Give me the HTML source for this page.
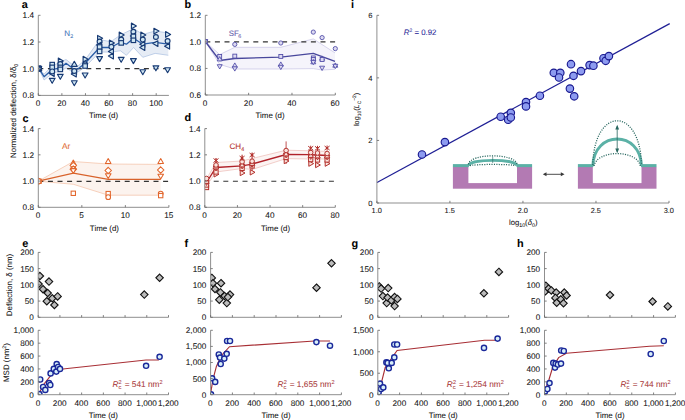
<!DOCTYPE html><html><head><meta charset="utf-8"><style>html,body{margin:0;padding:0;background:#fff;}svg{display:block;}text{font-family:"Liberation Sans", sans-serif;text-rendering:geometricPrecision;stroke-width:0.06px;}</style></head><body>
<svg width="685" height="420" viewBox="0 0 685 420">
<rect width="685" height="420" fill="#fff"/>
<polygon points="38.8,68.6 44.1,74.0 52.2,66.0 60.3,62.0 66.0,59.5 74.3,66.0 77.9,66.0 85.1,60.0 99.6,39.6 110.7,41.7 120.5,35.0 133.6,28.5 142.8,34.4 155.2,31.0 168.3,33.0 168.3,55.3 155.2,53.4 142.8,57.3 133.6,47.5 126.4,55.3 120.5,50.8 110.7,52.1 99.6,52.1 85.1,67.0 77.9,72.0 74.3,73.0 66.0,68.0 60.3,71.0 52.2,73.5 44.1,80.0 38.8,68.6" fill="#e6ecf5" stroke="none"/>
<polyline points="38.8,68.6 44.1,74.0 52.2,66.0 60.3,62.0 66.0,59.5 74.3,66.0 77.9,66.0 85.1,60.0 99.6,39.6 110.7,41.7 120.5,35.0 133.6,28.5 142.8,34.4 155.2,31.0 168.3,33.0" fill="none" stroke="#9cb6dc" stroke-width="0.6"/>
<polyline points="38.8,68.6 44.1,80.0 52.2,73.5 60.3,71.0 66.0,68.0 74.3,73.0 77.9,72.0 85.1,67.0 99.6,52.1 110.7,52.1 120.5,50.8 126.4,55.3 133.6,47.5 142.8,57.3 155.2,53.4 168.3,55.3" fill="none" stroke="#9cb6dc" stroke-width="0.6"/>
<line x1="38.3" y1="68.6" x2="168.9" y2="68.6" stroke="#333" stroke-width="1.1" stroke-dasharray="5 4.6"/>
<polyline points="38.8,68.6 44.1,76.7 52.2,69.4 60.3,68.2 66.0,63.3 74.3,69.4 77.9,68.9 85.1,63.3 99.6,47.5 110.7,47.5 120.5,42.3 126.4,44.2 133.6,38.3 142.8,44.2 155.2,42.3 168.3,44.2" fill="none" stroke="#2a5ea8" stroke-width="1.3" stroke-linejoin="round"/>
<clipPath id="ca"><rect x="38.3" y="5" width="140" height="90.4"/></clipPath><g clip-path="url(#ca)">
<circle cx="38.8" cy="68.6" r="2.44" fill="#d0e6f2" stroke="#173a74" stroke-width="1.15"/>
<rect x="36.55" y="66.35" width="4.50" height="4.50" fill="#d0e6f2" stroke="#173a74" stroke-width="1.15"/>
<polygon points="38.8,65.6 41.7,70.6 35.9,70.6" fill="#d0e6f2" stroke="#173a74" stroke-width="1.15" stroke-linejoin="round"/>
<polygon points="38.8,71.6 41.7,66.6 35.9,66.6" fill="#d0e6f2" stroke="#173a74" stroke-width="1.15" stroke-linejoin="round"/>
<polygon points="35.8,68.6 40.8,71.5 40.8,65.7" fill="#d0e6f2" stroke="#173a74" stroke-width="1.15" stroke-linejoin="round"/>
<polygon points="41.8,68.6 36.8,71.5 36.8,65.7" fill="#d0e6f2" stroke="#173a74" stroke-width="1.15" stroke-linejoin="round"/>
<rect x="49.95" y="62.35" width="4.50" height="4.50" fill="#d0e6f2" stroke="#173a74" stroke-width="1.15"/>
<rect x="49.95" y="65.15" width="4.50" height="4.50" fill="#d0e6f2" stroke="#173a74" stroke-width="1.15"/>
<polygon points="49.2,73.5 54.2,76.4 54.2,70.6" fill="#d0e6f2" stroke="#173a74" stroke-width="1.15" stroke-linejoin="round"/>
<circle cx="52.2" cy="71.4" r="2.44" fill="#d0e6f2" stroke="#173a74" stroke-width="1.15"/>
<polygon points="52.2,83.3 55.1,78.3 49.3,78.3" fill="#d0e6f2" stroke="#173a74" stroke-width="1.15" stroke-linejoin="round"/>
<polygon points="63.3,60.9 58.3,63.8 58.3,58.0" fill="#d0e6f2" stroke="#173a74" stroke-width="1.15" stroke-linejoin="round"/>
<circle cx="60.3" cy="64.1" r="2.44" fill="#d0e6f2" stroke="#173a74" stroke-width="1.15"/>
<rect x="58.05" y="65.15" width="4.50" height="4.50" fill="#d0e6f2" stroke="#173a74" stroke-width="1.15"/>
<rect x="58.05" y="67.15" width="4.50" height="4.50" fill="#d0e6f2" stroke="#173a74" stroke-width="1.15"/>
<polygon points="60.3,79.3 63.2,74.3 57.4,74.3" fill="#d0e6f2" stroke="#173a74" stroke-width="1.15" stroke-linejoin="round"/>
<polygon points="74.3,61.3 77.2,66.3 71.4,66.3" fill="#d0e6f2" stroke="#173a74" stroke-width="1.15" stroke-linejoin="round"/>
<rect x="72.05" y="69.75" width="4.50" height="4.50" fill="#d0e6f2" stroke="#173a74" stroke-width="1.15"/>
<polygon points="71.3,74.0 76.3,76.9 76.3,71.1" fill="#d0e6f2" stroke="#173a74" stroke-width="1.15" stroke-linejoin="round"/>
<circle cx="74.3" cy="71.0" r="2.44" fill="#d0e6f2" stroke="#173a74" stroke-width="1.15"/>
<polygon points="74.3,85.7 77.2,80.7 71.4,80.7" fill="#d0e6f2" stroke="#173a74" stroke-width="1.15" stroke-linejoin="round"/>
<polygon points="88.1,59.2 83.1,62.1 83.1,56.3" fill="#d0e6f2" stroke="#173a74" stroke-width="1.15" stroke-linejoin="round"/>
<circle cx="85.1" cy="64.3" r="2.44" fill="#d0e6f2" stroke="#173a74" stroke-width="1.15"/>
<rect x="82.85" y="63.75" width="4.50" height="4.50" fill="#d0e6f2" stroke="#173a74" stroke-width="1.15"/>
<polygon points="85.1,78.0 88.0,73.0 82.2,73.0" fill="#d0e6f2" stroke="#173a74" stroke-width="1.15" stroke-linejoin="round"/>
<polygon points="102.6,38.3 97.6,41.2 97.6,35.4" fill="#d0e6f2" stroke="#173a74" stroke-width="1.15" stroke-linejoin="round"/>
<circle cx="99.6" cy="41.6" r="2.44" fill="#d0e6f2" stroke="#173a74" stroke-width="1.15"/>
<polygon points="96.6,44.9 101.6,47.8 101.6,42.0" fill="#d0e6f2" stroke="#173a74" stroke-width="1.15" stroke-linejoin="round"/>
<rect x="97.35" y="44.75" width="4.50" height="4.50" fill="#d0e6f2" stroke="#173a74" stroke-width="1.15"/>
<rect x="97.35" y="49.15" width="4.50" height="4.50" fill="#d0e6f2" stroke="#173a74" stroke-width="1.15"/>
<polygon points="99.6,61.6 102.5,56.6 96.7,56.6" fill="#d0e6f2" stroke="#173a74" stroke-width="1.15" stroke-linejoin="round"/>
<polygon points="114.4,42.9 109.4,45.8 109.4,40.0" fill="#d0e6f2" stroke="#173a74" stroke-width="1.15" stroke-linejoin="round"/>
<circle cx="111.4" cy="46.8" r="2.44" fill="#d0e6f2" stroke="#173a74" stroke-width="1.15"/>
<polygon points="108.4,51.4 113.4,54.3 113.4,48.5" fill="#d0e6f2" stroke="#173a74" stroke-width="1.15" stroke-linejoin="round"/>
<polygon points="108.4,56.0 113.4,58.9 113.4,53.1" fill="#d0e6f2" stroke="#173a74" stroke-width="1.15" stroke-linejoin="round"/>
<polygon points="124.2,35.0 119.2,37.9 119.2,32.1" fill="#d0e6f2" stroke="#173a74" stroke-width="1.15" stroke-linejoin="round"/>
<circle cx="121.2" cy="39.6" r="2.44" fill="#d0e6f2" stroke="#173a74" stroke-width="1.15"/>
<rect x="118.95" y="40.65" width="4.50" height="4.50" fill="#d0e6f2" stroke="#173a74" stroke-width="1.15"/>
<polygon points="121.2,62.3 124.1,57.3 118.3,57.3" fill="#d0e6f2" stroke="#173a74" stroke-width="1.15" stroke-linejoin="round"/>
<polygon points="136.4,25.9 131.4,28.8 131.4,23.0" fill="#d0e6f2" stroke="#173a74" stroke-width="1.15" stroke-linejoin="round"/>
<circle cx="133.4" cy="31.8" r="2.44" fill="#d0e6f2" stroke="#173a74" stroke-width="1.15"/>
<polygon points="130.4,36.0 135.4,38.9 135.4,33.1" fill="#d0e6f2" stroke="#173a74" stroke-width="1.15" stroke-linejoin="round"/>
<rect x="131.15" y="34.15" width="4.50" height="4.50" fill="#d0e6f2" stroke="#173a74" stroke-width="1.15"/>
<rect x="131.15" y="38.05" width="4.50" height="4.50" fill="#d0e6f2" stroke="#173a74" stroke-width="1.15"/>
<polygon points="133.4,63.6 136.3,58.6 130.5,58.6" fill="#d0e6f2" stroke="#173a74" stroke-width="1.15" stroke-linejoin="round"/>
<polygon points="145.8,35.0 140.8,37.9 140.8,32.1" fill="#d0e6f2" stroke="#173a74" stroke-width="1.15" stroke-linejoin="round"/>
<circle cx="142.8" cy="39.6" r="2.44" fill="#d0e6f2" stroke="#173a74" stroke-width="1.15"/>
<polygon points="139.8,44.2 144.8,47.1 144.8,41.3" fill="#d0e6f2" stroke="#173a74" stroke-width="1.15" stroke-linejoin="round"/>
<polygon points="139.8,47.5 144.8,50.4 144.8,44.6" fill="#d0e6f2" stroke="#173a74" stroke-width="1.15" stroke-linejoin="round"/>
<polygon points="142.8,74.7 145.7,69.7 139.9,69.7" fill="#d0e6f2" stroke="#173a74" stroke-width="1.15" stroke-linejoin="round"/>
<polygon points="158.9,31.1 153.9,34.0 153.9,28.2" fill="#d0e6f2" stroke="#173a74" stroke-width="1.15" stroke-linejoin="round"/>
<circle cx="155.9" cy="37.0" r="2.44" fill="#d0e6f2" stroke="#173a74" stroke-width="1.15"/>
<polygon points="152.9,43.6 157.9,46.5 157.9,40.7" fill="#d0e6f2" stroke="#173a74" stroke-width="1.15" stroke-linejoin="round"/>
<polygon points="155.9,70.8 158.8,65.8 153.0,65.8" fill="#d0e6f2" stroke="#173a74" stroke-width="1.15" stroke-linejoin="round"/>
<polygon points="170.6,34.4 165.6,37.3 165.6,31.5" fill="#d0e6f2" stroke="#173a74" stroke-width="1.15" stroke-linejoin="round"/>
<circle cx="167.6" cy="41.0" r="2.44" fill="#d0e6f2" stroke="#173a74" stroke-width="1.15"/>
<polygon points="164.6,46.2 169.6,49.1 169.6,43.3" fill="#d0e6f2" stroke="#173a74" stroke-width="1.15" stroke-linejoin="round"/>
<polygon points="167.6,72.7 170.5,67.7 164.7,67.7" fill="#d0e6f2" stroke="#173a74" stroke-width="1.15" stroke-linejoin="round"/>
</g>
<path d="M38.3,15.3 V95.4 H168.9" fill="none" stroke="#8f8f8f" stroke-width="1.0"/>
<path d="M38.3,15.30 h2.2M38.3,42.00 h2.2M38.3,68.70 h2.2M38.3,95.40 h2.2M38.30,95.4 v-2.2M61.88,95.4 v-2.2M85.46,95.4 v-2.2M109.04,95.4 v-2.2M132.62,95.4 v-2.2M156.20,95.4 v-2.2" fill="none" stroke="#6a6a6a" stroke-width="0.85"/>
<text x="34.0" y="18.2" text-anchor="end" font-size="8.2" fill="#111" stroke="#111" >1.4</text>
<text x="34.0" y="45.0" text-anchor="end" font-size="8.2" fill="#111" stroke="#111" >1.2</text>
<text x="34.0" y="71.7" text-anchor="end" font-size="8.2" fill="#111" stroke="#111" >1.0</text>
<text x="34.0" y="98.4" text-anchor="end" font-size="8.2" fill="#111" stroke="#111" >0.8</text>
<text x="38.1" y="105.8" text-anchor="middle" font-size="8.2" fill="#111" stroke="#111" >0</text>
<text x="61.7" y="105.8" text-anchor="middle" font-size="8.2" fill="#111" stroke="#111" >20</text>
<text x="85.3" y="105.8" text-anchor="middle" font-size="8.2" fill="#111" stroke="#111" >40</text>
<text x="108.8" y="105.8" text-anchor="middle" font-size="8.2" fill="#111" stroke="#111" >60</text>
<text x="132.4" y="105.8" text-anchor="middle" font-size="8.2" fill="#111" stroke="#111" >80</text>
<text x="156.0" y="105.8" text-anchor="middle" font-size="8.2" fill="#111" stroke="#111" >100</text>
<text x="103.6" y="118.2" text-anchor="middle" font-size="7.9" fill="#111" stroke="#111" >Time (d)</text>
<text x="64.2" y="35.5" font-size="8" fill="#3a72b8" stroke="#3a72b8">N<tspan font-size="5.3" dy="2.5" dx="0.2">2</tspan></text>
<text x="21.7" y="7.9" font-size="10.9" font-weight="bold" fill="#000" stroke="#000">a</text>
<polygon points="205.3,41.5 219.7,54.6 234.8,47.3 280.8,47.3 313.3,38.9 335.0,52.9 335.0,69.3 322.1,70.0 313.3,68.6 280.8,69.0 234.8,69.0 219.7,64.4 205.3,41.5" fill="#f5f4fb" stroke="none"/>
<polyline points="205.3,41.5 219.7,54.6 234.8,47.3 280.8,47.3 313.3,38.9 335.0,52.9" fill="none" stroke="#bdbae0" stroke-width="0.6"/>
<polyline points="205.3,41.5 219.7,64.4 234.8,69.0 280.8,69.0 313.3,68.6 322.1,70.0 335.0,69.3" fill="none" stroke="#bdbae0" stroke-width="0.6"/>
<line x1="205.3" y1="41.9" x2="335.3" y2="41.9" stroke="#333" stroke-width="1.1" stroke-dasharray="5 4.6"/>
<polyline points="205.3,41.5 219.7,60.5 234.8,58.5 280.8,57.2 313.3,53.3 335.0,61.4" fill="none" stroke="#48479c" stroke-width="1.3" stroke-linejoin="round"/>
<clipPath id="cb"><rect x="205.3" y="5" width="140" height="90"/></clipPath><g clip-path="url(#cb)">
<rect x="203.34" y="39.55" width="3.91" height="3.91" fill="#dddaf1" stroke="#4d49a6" stroke-width="0.85"/>
<polygon points="205.3,38.9 207.8,43.2 202.8,43.2" fill="#dddaf1" stroke="#4d49a6" stroke-width="0.85" stroke-linejoin="round"/>
<polygon points="205.3,44.1 207.8,39.8 202.8,39.8" fill="#dddaf1" stroke="#4d49a6" stroke-width="0.85" stroke-linejoin="round"/>
<circle cx="205.3" cy="41.5" r="2.12" fill="#dddaf1" stroke="#4d49a6" stroke-width="0.85"/>
<rect x="217.74" y="54.55" width="3.91" height="3.91" fill="#dddaf1" stroke="#4d49a6" stroke-width="0.85"/>
<polygon points="219.7,56.6 222.2,60.9 217.2,60.9" fill="#dddaf1" stroke="#4d49a6" stroke-width="0.85" stroke-linejoin="round"/>
<polygon points="219.7,69.0 222.2,64.7 217.2,64.7" fill="#dddaf1" stroke="#4d49a6" stroke-width="0.85" stroke-linejoin="round"/>
<circle cx="234.8" cy="44.4" r="2.12" fill="#dddaf1" stroke="#4d49a6" stroke-width="0.85"/>
<rect x="232.84" y="54.15" width="3.91" height="3.91" fill="#dddaf1" stroke="#4d49a6" stroke-width="0.85"/>
<polygon points="234.8,62.9 237.3,67.2 232.3,67.2" fill="#dddaf1" stroke="#4d49a6" stroke-width="0.85" stroke-linejoin="round"/>
<polygon points="234.8,71.1 237.3,66.8 232.3,66.8" fill="#dddaf1" stroke="#4d49a6" stroke-width="0.85" stroke-linejoin="round"/>
<circle cx="280.8" cy="43.0" r="2.12" fill="#dddaf1" stroke="#4d49a6" stroke-width="0.85"/>
<rect x="278.85" y="54.45" width="3.91" height="3.91" fill="#dddaf1" stroke="#4d49a6" stroke-width="0.85"/>
<polygon points="280.8,61.9 283.3,66.2 278.3,66.2" fill="#dddaf1" stroke="#4d49a6" stroke-width="0.85" stroke-linejoin="round"/>
<polygon points="280.8,69.6 283.3,65.3 278.3,65.3" fill="#dddaf1" stroke="#4d49a6" stroke-width="0.85" stroke-linejoin="round"/>
<circle cx="313.3" cy="32.1" r="2.12" fill="#dddaf1" stroke="#4d49a6" stroke-width="0.85"/>
<rect x="311.35" y="55.95" width="3.91" height="3.91" fill="#dddaf1" stroke="#4d49a6" stroke-width="0.85"/>
<rect x="311.35" y="57.55" width="3.91" height="3.91" fill="#dddaf1" stroke="#4d49a6" stroke-width="0.85"/>
<polygon points="313.3,59.5 315.8,63.8 310.8,63.8" fill="#dddaf1" stroke="#4d49a6" stroke-width="0.85" stroke-linejoin="round"/>
<polygon points="313.3,64.7 315.8,60.4 310.8,60.4" fill="#dddaf1" stroke="#4d49a6" stroke-width="0.85" stroke-linejoin="round"/>
<circle cx="322.1" cy="37.6" r="2.12" fill="#dddaf1" stroke="#4d49a6" stroke-width="0.85"/>
<polygon points="322.1,55.9 324.6,60.2 319.6,60.2" fill="#dddaf1" stroke="#4d49a6" stroke-width="0.85" stroke-linejoin="round"/>
<rect x="320.15" y="57.55" width="3.91" height="3.91" fill="#dddaf1" stroke="#4d49a6" stroke-width="0.85"/>
<polygon points="322.1,70.5 324.6,66.2 319.6,66.2" fill="#dddaf1" stroke="#4d49a6" stroke-width="0.85" stroke-linejoin="round"/>
<circle cx="335.3" cy="48.6" r="2.12" fill="#dddaf1" stroke="#4d49a6" stroke-width="0.85"/>
<polygon points="335.3,62.9 337.8,67.2 332.8,67.2" fill="#dddaf1" stroke="#4d49a6" stroke-width="0.85" stroke-linejoin="round"/>
<polygon points="335.3,68.6 337.8,64.3 332.8,64.3" fill="#dddaf1" stroke="#4d49a6" stroke-width="0.85" stroke-linejoin="round"/>
</g>
<path d="M205.3,15.3 V95.0 H335.3" fill="none" stroke="#8f8f8f" stroke-width="1.0"/>
<path d="M205.3,15.30 h2.2M205.3,41.87 h2.2M205.3,68.43 h2.2M205.3,95.00 h2.2M205.30,95.0 v-2.2M248.63,95.0 v-2.2M291.97,95.0 v-2.2M335.30,95.0 v-2.2" fill="none" stroke="#6a6a6a" stroke-width="0.85"/>
<text x="201.0" y="18.2" text-anchor="end" font-size="8.2" fill="#111" stroke="#111" >1.2</text>
<text x="201.0" y="44.8" text-anchor="end" font-size="8.2" fill="#111" stroke="#111" >1.0</text>
<text x="201.0" y="71.4" text-anchor="end" font-size="8.2" fill="#111" stroke="#111" >0.8</text>
<text x="201.0" y="98.0" text-anchor="end" font-size="8.2" fill="#111" stroke="#111" >0.6</text>
<text x="205.1" y="105.8" text-anchor="middle" font-size="8.2" fill="#111" stroke="#111" >0</text>
<text x="248.4" y="105.8" text-anchor="middle" font-size="8.2" fill="#111" stroke="#111" >20</text>
<text x="291.8" y="105.8" text-anchor="middle" font-size="8.2" fill="#111" stroke="#111" >40</text>
<text x="335.1" y="105.8" text-anchor="middle" font-size="8.2" fill="#111" stroke="#111" >60</text>
<text x="270.1" y="118.2" text-anchor="middle" font-size="7.9" fill="#111" stroke="#111" >Time (d)</text>
<text x="228.7" y="35.5" font-size="7.8" fill="#5a54a8" stroke="#5a54a8">SF<tspan font-size="5.3" dy="2.5" dx="-0.4">6</tspan></text>
<text x="184.5" y="7.9" font-size="10.9" font-weight="bold" fill="#000" stroke="#000">b</text>
<polygon points="38.3,181.2 73.4,161.5 108.3,164.0 160.7,164.4 160.7,195.2 108.3,195.2 73.4,184.3 38.3,181.2" fill="#fcf3ee" stroke="none"/>
<polyline points="38.3,181.2 73.4,161.5 108.3,164.0 160.7,164.4" fill="none" stroke="#f2b596" stroke-width="0.6"/>
<polyline points="38.3,181.2 73.4,184.3 108.3,195.2 160.7,195.2" fill="none" stroke="#f2b596" stroke-width="0.6"/>
<line x1="38.3" y1="181.4" x2="168.9" y2="181.4" stroke="#333" stroke-width="1.1" stroke-dasharray="5 4.6"/>
<polyline points="38.3,181.2 73.4,173.1 108.3,179.4 160.7,179.4" fill="none" stroke="#d8622b" stroke-width="1.3"/>
<clipPath id="cc"><rect x="38.3" y="118" width="140" height="89.3"/></clipPath><g clip-path="url(#cc)">
<polygon points="38.60,178.01 41.79,181.20 38.60,184.39 35.41,181.20" fill="#fff" stroke="#e2662c" stroke-width="1.05"/>
<circle cx="38.6" cy="181.2" r="2.35" fill="#fff" stroke="#e2662c" stroke-width="1.05"/>
<polygon points="38.6,178.3 41.4,183.1 35.8,183.1" fill="#fff" stroke="#e2662c" stroke-width="1.05" stroke-linejoin="round"/>
<polygon points="38.6,184.1 41.4,179.3 35.8,179.3" fill="#fff" stroke="#e2662c" stroke-width="1.05" stroke-linejoin="round"/>
<rect x="36.43" y="179.03" width="4.33" height="4.33" fill="#fff" stroke="#e2662c" stroke-width="1.05"/>
<polygon points="73.3,160.1 76.1,164.9 70.5,164.9" fill="#fff" stroke="#e2662c" stroke-width="1.05" stroke-linejoin="round"/>
<polygon points="73.30,162.31 76.49,165.50 73.30,168.69 70.11,165.50" fill="#fff" stroke="#e2662c" stroke-width="1.05"/>
<circle cx="73.3" cy="168.6" r="2.35" fill="#fff" stroke="#e2662c" stroke-width="1.05"/>
<polygon points="73.30,166.01 76.49,169.20 73.30,172.39 70.11,169.20" fill="#fff" stroke="#e2662c" stroke-width="1.05"/>
<polygon points="73.3,173.4 76.1,168.6 70.5,168.6" fill="#fff" stroke="#e2662c" stroke-width="1.05" stroke-linejoin="round"/>
<rect x="71.13" y="191.13" width="4.33" height="4.33" fill="#fff" stroke="#e2662c" stroke-width="1.05"/>
<polygon points="108.2,158.6 111.0,163.4 105.4,163.4" fill="#fff" stroke="#e2662c" stroke-width="1.05" stroke-linejoin="round"/>
<polygon points="108.20,167.31 111.39,170.50 108.20,173.69 105.01,170.50" fill="#fff" stroke="#e2662c" stroke-width="1.05"/>
<polygon points="108.2,178.5 111.0,173.7 105.4,173.7" fill="#fff" stroke="#e2662c" stroke-width="1.05" stroke-linejoin="round"/>
<rect x="106.03" y="191.43" width="4.33" height="4.33" fill="#fff" stroke="#e2662c" stroke-width="1.05"/>
<circle cx="108.2" cy="197.2" r="2.35" fill="#fff" stroke="#e2662c" stroke-width="1.05"/>
<polygon points="160.7,158.6 163.5,163.4 157.9,163.4" fill="#fff" stroke="#e2662c" stroke-width="1.05" stroke-linejoin="round"/>
<polygon points="160.70,166.81 163.89,170.00 160.70,173.19 157.51,170.00" fill="#fff" stroke="#e2662c" stroke-width="1.05"/>
<polygon points="160.7,179.1 163.5,174.3 157.9,174.3" fill="#fff" stroke="#e2662c" stroke-width="1.05" stroke-linejoin="round"/>
<circle cx="160.7" cy="193.6" r="2.35" fill="#fff" stroke="#e2662c" stroke-width="1.05"/>
<rect x="158.53" y="193.43" width="4.33" height="4.33" fill="#fff" stroke="#e2662c" stroke-width="1.05"/>
</g>
<path d="M38.3,128.6 V207.3 H168.9" fill="none" stroke="#8f8f8f" stroke-width="1.0"/>
<path d="M38.3,128.60 h2.2M38.3,154.83 h2.2M38.3,181.07 h2.2M38.3,207.30 h2.2M38.30,207.3 v-2.2M81.83,207.3 v-2.2M125.37,207.3 v-2.2M168.90,207.3 v-2.2" fill="none" stroke="#6a6a6a" stroke-width="0.85"/>
<text x="34.0" y="131.5" text-anchor="end" font-size="8.2" fill="#111" stroke="#111" >1.4</text>
<text x="34.0" y="157.8" text-anchor="end" font-size="8.2" fill="#111" stroke="#111" >1.2</text>
<text x="34.0" y="184.0" text-anchor="end" font-size="8.2" fill="#111" stroke="#111" >1.0</text>
<text x="34.0" y="210.2" text-anchor="end" font-size="8.2" fill="#111" stroke="#111" >0.8</text>
<text x="38.1" y="218.4" text-anchor="middle" font-size="8.2" fill="#111" stroke="#111" >0</text>
<text x="81.6" y="218.4" text-anchor="middle" font-size="8.2" fill="#111" stroke="#111" >5</text>
<text x="125.2" y="218.4" text-anchor="middle" font-size="8.2" fill="#111" stroke="#111" >10</text>
<text x="168.7" y="218.4" text-anchor="middle" font-size="8.2" fill="#111" stroke="#111" >15</text>
<text x="104.4" y="230.9" text-anchor="middle" font-size="7.9" fill="#111" stroke="#111" >Time (d)</text>
<text x="62.0" y="148.6" font-size="8.4" fill="#e0692e" stroke="#e0692e">Ar</text>
<text x="22.4" y="121.7" font-size="10.9" font-weight="bold" fill="#000" stroke="#000">c</text>
<polygon points="206.5,179.0 216.0,162.5 242.1,161.0 252.1,158.5 286.1,150.2 310.7,150.8 327.1,151.4 327.1,159.0 310.7,159.0 286.1,158.6 252.1,169.5 242.1,168.5 216.0,172.0 206.5,186.0" fill="#fcf4f3" stroke="none"/>
<polyline points="206.5,179.0 216.0,162.5 242.1,161.0 252.1,158.5 286.1,150.2 310.7,150.8 327.1,151.4" fill="none" stroke="#eab0aa" stroke-width="0.6"/>
<polyline points="206.5,186.0 216.0,172.0 242.1,168.5 252.1,169.5 286.1,158.6 310.7,159.0 327.1,159.0" fill="none" stroke="#eab0aa" stroke-width="0.6"/>
<line x1="213.7" y1="181.3" x2="335.3" y2="181.3" stroke="#333" stroke-width="1.1" stroke-dasharray="5 4.6"/>
<polyline points="206.5,182.5 216.0,167.5 242.1,165.8 252.1,164.1 286.1,154.5 310.7,154.6 317.6,155.0 327.1,155.5" fill="none" stroke="#b0222a" stroke-width="1.35"/>
<path d="M242.1,154.6 V172 M286.1,141.4 V164 M252.1,153 V172 M216,158.5 V176" stroke="#b3282a" stroke-width="0.8"/>
<clipPath id="cd"><rect x="204.8" y="118" width="140" height="89.3"/></clipPath><g clip-path="url(#cd)">
<rect x="204.38" y="185.38" width="4.25" height="4.25" fill="#fbe4de" stroke="#b2302c" stroke-width="1.0"/>
<rect x="204.38" y="182.88" width="4.25" height="4.25" fill="#fbe4de" stroke="#b2302c" stroke-width="1.0"/>
<polygon points="206.5,185.4 209.2,180.6 203.8,180.6" fill="#fbe4de" stroke="#b2302c" stroke-width="1.0" stroke-linejoin="round"/>
<polygon points="206.5,178.6 209.2,183.4 203.8,183.4" fill="#fbe4de" stroke="#b2302c" stroke-width="1.0" stroke-linejoin="round"/>
<circle cx="206.5" cy="178.5" r="2.30" fill="#fbe4de" stroke="#b2302c" stroke-width="1.0"/>
<polygon points="218.9,174.3 214.1,177.0 214.1,171.6" fill="#fbe4de" stroke="#b2302c" stroke-width="1.0" stroke-linejoin="round"/>
<rect x="213.88" y="169.88" width="4.25" height="4.25" fill="#fbe4de" stroke="#b2302c" stroke-width="1.0"/>
<polygon points="216.0,170.9 218.7,166.1 213.3,166.1" fill="#fbe4de" stroke="#b2302c" stroke-width="1.0" stroke-linejoin="round"/>
<polygon points="216.0,164.1 218.7,168.9 213.3,168.9" fill="#fbe4de" stroke="#b2302c" stroke-width="1.0" stroke-linejoin="round"/>
<circle cx="216.0" cy="165.0" r="2.30" fill="#fbe4de" stroke="#b2302c" stroke-width="1.0"/>
<path d="M213.5,158.5 L218.5,162.5 M218.5,158.5 L213.5,162.5 M216,158.0 V163.0" stroke="#b2302c" stroke-width="1.0" fill="none"/>
<polygon points="245.0,173.0 240.2,175.7 240.2,170.3" fill="#fbe4de" stroke="#b2302c" stroke-width="1.0" stroke-linejoin="round"/>
<rect x="239.97" y="166.28" width="4.25" height="4.25" fill="#fbe4de" stroke="#b2302c" stroke-width="1.0"/>
<polygon points="242.1,168.9 244.8,164.1 239.4,164.1" fill="#fbe4de" stroke="#b2302c" stroke-width="1.0" stroke-linejoin="round"/>
<polygon points="242.1,162.1 244.8,166.9 239.4,166.9" fill="#fbe4de" stroke="#b2302c" stroke-width="1.0" stroke-linejoin="round"/>
<circle cx="242.1" cy="161.8" r="2.30" fill="#fbe4de" stroke="#b2302c" stroke-width="1.0"/>
<path d="M239.6,156.0 L244.6,160.0 M244.6,156.0 L239.6,160.0 M242.1,155.5 V160.5" stroke="#b2302c" stroke-width="1.0" fill="none"/>
<polygon points="255.0,172.3 250.2,175.0 250.2,169.6" fill="#fbe4de" stroke="#b2302c" stroke-width="1.0" stroke-linejoin="round"/>
<rect x="249.97" y="163.88" width="4.25" height="4.25" fill="#fbe4de" stroke="#b2302c" stroke-width="1.0"/>
<polygon points="252.1,167.4 254.8,162.6 249.4,162.6" fill="#fbe4de" stroke="#b2302c" stroke-width="1.0" stroke-linejoin="round"/>
<polygon points="252.1,160.6 254.8,165.4 249.4,165.4" fill="#fbe4de" stroke="#b2302c" stroke-width="1.0" stroke-linejoin="round"/>
<circle cx="252.1" cy="161.2" r="2.30" fill="#fbe4de" stroke="#b2302c" stroke-width="1.0"/>
<path d="M249.6,153.0 L254.6,157.0 M254.6,153.0 L249.6,157.0 M252.1,152.5 V157.5" stroke="#b2302c" stroke-width="1.0" fill="none"/>
<polygon points="289.0,161.0 284.2,163.7 284.2,158.3" fill="#fbe4de" stroke="#b2302c" stroke-width="1.0" stroke-linejoin="round"/>
<rect x="283.98" y="155.38" width="4.25" height="4.25" fill="#fbe4de" stroke="#b2302c" stroke-width="1.0"/>
<polygon points="286.1,157.9 288.8,153.1 283.4,153.1" fill="#fbe4de" stroke="#b2302c" stroke-width="1.0" stroke-linejoin="round"/>
<polygon points="286.1,151.1 288.8,155.9 283.4,155.9" fill="#fbe4de" stroke="#b2302c" stroke-width="1.0" stroke-linejoin="round"/>
<circle cx="286.1" cy="150.5" r="2.30" fill="#fbe4de" stroke="#b2302c" stroke-width="1.0"/>
<polygon points="313.6,163.6 308.8,166.3 308.8,160.9" fill="#fbe4de" stroke="#b2302c" stroke-width="1.0" stroke-linejoin="round"/>
<rect x="308.57" y="157.47" width="4.25" height="4.25" fill="#fbe4de" stroke="#b2302c" stroke-width="1.0"/>
<polygon points="310.7,159.4 313.4,154.6 308.0,154.6" fill="#fbe4de" stroke="#b2302c" stroke-width="1.0" stroke-linejoin="round"/>
<polygon points="310.7,152.6 313.4,157.4 308.0,157.4" fill="#fbe4de" stroke="#b2302c" stroke-width="1.0" stroke-linejoin="round"/>
<circle cx="310.7" cy="152.5" r="2.30" fill="#fbe4de" stroke="#b2302c" stroke-width="1.0"/>
<path d="M308.2,146.2 L313.2,150.2 M313.2,146.2 L308.2,150.2 M310.7,145.7 V150.7" stroke="#b2302c" stroke-width="1.0" fill="none"/>
<polygon points="320.4,165.0 315.6,167.7 315.6,162.3" fill="#fbe4de" stroke="#b2302c" stroke-width="1.0" stroke-linejoin="round"/>
<rect x="315.38" y="157.88" width="4.25" height="4.25" fill="#fbe4de" stroke="#b2302c" stroke-width="1.0"/>
<polygon points="317.5,159.9 320.2,155.1 314.8,155.1" fill="#fbe4de" stroke="#b2302c" stroke-width="1.0" stroke-linejoin="round"/>
<polygon points="317.5,153.1 320.2,157.9 314.8,157.9" fill="#fbe4de" stroke="#b2302c" stroke-width="1.0" stroke-linejoin="round"/>
<circle cx="317.5" cy="153.0" r="2.30" fill="#fbe4de" stroke="#b2302c" stroke-width="1.0"/>
<path d="M315.0,146.3 L320.0,150.3 M320.0,146.3 L315.0,150.3 M317.5,145.8 V150.8" stroke="#b2302c" stroke-width="1.0" fill="none"/>
<polygon points="330.0,163.6 325.2,166.3 325.2,160.9" fill="#fbe4de" stroke="#b2302c" stroke-width="1.0" stroke-linejoin="round"/>
<rect x="324.98" y="157.88" width="4.25" height="4.25" fill="#fbe4de" stroke="#b2302c" stroke-width="1.0"/>
<polygon points="327.1,159.9 329.8,155.1 324.4,155.1" fill="#fbe4de" stroke="#b2302c" stroke-width="1.0" stroke-linejoin="round"/>
<polygon points="327.1,153.1 329.8,157.9 324.4,157.9" fill="#fbe4de" stroke="#b2302c" stroke-width="1.0" stroke-linejoin="round"/>
<circle cx="327.1" cy="153.5" r="2.30" fill="#fbe4de" stroke="#b2302c" stroke-width="1.0"/>
<path d="M324.6,146.0 L329.6,150.0 M329.6,146.0 L324.6,150.0 M327.1,145.5 V150.5" stroke="#b2302c" stroke-width="1.0" fill="none"/>
</g>
<path d="M204.8,128.6 V207.3 H335.3" fill="none" stroke="#8f8f8f" stroke-width="1.0"/>
<path d="M204.8,128.60 h2.2M204.8,154.83 h2.2M204.8,181.07 h2.2M204.8,207.30 h2.2M204.80,207.3 v-2.2M237.43,207.3 v-2.2M270.05,207.3 v-2.2M302.68,207.3 v-2.2M335.30,207.3 v-2.2" fill="none" stroke="#6a6a6a" stroke-width="0.85"/>
<text x="200.5" y="131.5" text-anchor="end" font-size="8.2" fill="#111" stroke="#111" >1.4</text>
<text x="200.5" y="157.8" text-anchor="end" font-size="8.2" fill="#111" stroke="#111" >1.2</text>
<text x="200.5" y="184.0" text-anchor="end" font-size="8.2" fill="#111" stroke="#111" >1.0</text>
<text x="200.5" y="210.2" text-anchor="end" font-size="8.2" fill="#111" stroke="#111" >0.8</text>
<text x="204.6" y="218.4" text-anchor="middle" font-size="8.2" fill="#111" stroke="#111" >0</text>
<text x="237.2" y="218.4" text-anchor="middle" font-size="8.2" fill="#111" stroke="#111" >20</text>
<text x="269.9" y="218.4" text-anchor="middle" font-size="8.2" fill="#111" stroke="#111" >40</text>
<text x="302.5" y="218.4" text-anchor="middle" font-size="8.2" fill="#111" stroke="#111" >60</text>
<text x="335.1" y="218.4" text-anchor="middle" font-size="8.2" fill="#111" stroke="#111" >80</text>
<text x="275.6" y="230.9" text-anchor="middle" font-size="7.9" fill="#111" stroke="#111" >Time (d)</text>
<text x="229.5" y="149.4" font-size="8" fill="#b5302e" stroke="#b5302e">CH<tspan font-size="5.3" dy="2.0" dx="0.3">4</tspan></text>
<text x="184.4" y="121.1" font-size="10.9" font-weight="bold" fill="#000" stroke="#000">d</text>
<text transform="translate(16.2,110.8) rotate(-90)" text-anchor="middle" font-size="7.9" fill="#111" stroke="#111">Normalized deflection, δ/δ<tspan font-size="5.5" dy="1.8">0</tspan></text>
<line x1="377" y1="182.5" x2="669.7" y2="23.6" stroke="#1f1f95" stroke-width="1.2"/>
<circle cx="422" cy="154.5" r="3.75" fill="#8d9bf0" stroke="#19198f" stroke-width="1.15"/>
<circle cx="444.9" cy="142.1" r="3.75" fill="#8d9bf0" stroke="#19198f" stroke-width="1.15"/>
<circle cx="500.7" cy="116.7" r="3.75" fill="#8d9bf0" stroke="#19198f" stroke-width="1.15"/>
<circle cx="508.2" cy="119.7" r="3.75" fill="#8d9bf0" stroke="#19198f" stroke-width="1.15"/>
<circle cx="510.8" cy="112.8" r="3.75" fill="#8d9bf0" stroke="#19198f" stroke-width="1.15"/>
<circle cx="510.8" cy="117.5" r="3.75" fill="#8d9bf0" stroke="#19198f" stroke-width="1.15"/>
<circle cx="526" cy="102.1" r="3.75" fill="#8d9bf0" stroke="#19198f" stroke-width="1.15"/>
<circle cx="526" cy="106.4" r="3.75" fill="#8d9bf0" stroke="#19198f" stroke-width="1.15"/>
<circle cx="539.9" cy="95.7" r="3.75" fill="#8d9bf0" stroke="#19198f" stroke-width="1.15"/>
<circle cx="553.8" cy="72.8" r="3.75" fill="#8d9bf0" stroke="#19198f" stroke-width="1.15"/>
<circle cx="560.3" cy="72.8" r="3.75" fill="#8d9bf0" stroke="#19198f" stroke-width="1.15"/>
<circle cx="559" cy="77.5" r="3.75" fill="#8d9bf0" stroke="#19198f" stroke-width="1.15"/>
<circle cx="571" cy="64.2" r="3.75" fill="#8d9bf0" stroke="#19198f" stroke-width="1.15"/>
<circle cx="573.5" cy="75.8" r="3.75" fill="#8d9bf0" stroke="#19198f" stroke-width="1.15"/>
<circle cx="569.9" cy="88.6" r="3.75" fill="#8d9bf0" stroke="#19198f" stroke-width="1.15"/>
<circle cx="574.2" cy="96.3" r="3.75" fill="#8d9bf0" stroke="#19198f" stroke-width="1.15"/>
<circle cx="581" cy="71.1" r="3.75" fill="#8d9bf0" stroke="#19198f" stroke-width="1.15"/>
<circle cx="589.6" cy="65.1" r="3.75" fill="#8d9bf0" stroke="#19198f" stroke-width="1.15"/>
<circle cx="593.4" cy="65.7" r="3.75" fill="#8d9bf0" stroke="#19198f" stroke-width="1.15"/>
<circle cx="603.5" cy="58.2" r="3.75" fill="#8d9bf0" stroke="#19198f" stroke-width="1.15"/>
<circle cx="605.7" cy="60.8" r="3.75" fill="#8d9bf0" stroke="#19198f" stroke-width="1.15"/>
<circle cx="608.9" cy="56.1" r="3.75" fill="#8d9bf0" stroke="#19198f" stroke-width="1.15"/>
<path d="M376.9,15.3 V203.0 H669.0" fill="none" stroke="#8f8f8f" stroke-width="1.0"/>
<path d="M376.9,15.30 h2.2M376.9,77.87 h2.2M376.9,140.43 h2.2M376.9,203.00 h2.2M376.90,203.0 v-2.2M449.92,203.0 v-2.2M522.95,203.0 v-2.2M595.98,203.0 v-2.2M669.00,203.0 v-2.2" fill="none" stroke="#6a6a6a" stroke-width="0.85"/>
<text x="372.5" y="18.0" text-anchor="end" font-size="7.6" fill="#111" stroke="#111" >6</text>
<text x="372.5" y="80.6" text-anchor="end" font-size="7.6" fill="#111" stroke="#111" >4</text>
<text x="372.5" y="143.1" text-anchor="end" font-size="7.6" fill="#111" stroke="#111" >2</text>
<text x="372.5" y="205.7" text-anchor="end" font-size="7.6" fill="#111" stroke="#111" >0</text>
<text x="376.7" y="213.4" text-anchor="middle" font-size="7.4" fill="#111" stroke="#111" >1.0</text>
<text x="449.7" y="213.4" text-anchor="middle" font-size="7.4" fill="#111" stroke="#111" >1.5</text>
<text x="522.8" y="213.4" text-anchor="middle" font-size="7.4" fill="#111" stroke="#111" >2.0</text>
<text x="595.8" y="213.4" text-anchor="middle" font-size="7.4" fill="#111" stroke="#111" >2.5</text>
<text x="668.8" y="213.4" text-anchor="middle" font-size="7.4" fill="#111" stroke="#111" >3.0</text>
<text x="523.2" y="225.1" text-anchor="middle" font-size="7.7" fill="#111" stroke="#111">log<tspan font-size="5.3" dy="1.9">10</tspan><tspan dy="-1.9">(</tspan><tspan font-style="italic">δ</tspan><tspan font-size="5.3" dy="1.9">0</tspan><tspan dy="-1.9">)</tspan></text>
<text transform="translate(359.2,109.4) rotate(-90)" text-anchor="middle" font-size="7.3" fill="#111" stroke="#111">log<tspan font-size="4.9" dy="1.8">10</tspan><tspan dy="-1.8">(</tspan><tspan font-style="italic">L</tspan><tspan font-size="4.9" dy="1.6">C</tspan><tspan font-size="4.9" dy="-4.4">−2</tspan><tspan dy="2.8">)</tspan></text>
<text x="403.8" y="35.1" font-size="7.85" fill="#2b2b99" stroke="#2b2b99"><tspan font-style="italic">R</tspan><tspan font-size="5" dy="-3">2</tspan><tspan dy="3"> = 0.92</tspan></text>
<text x="351.1" y="7.9" font-size="10.9" font-weight="bold" fill="#000" stroke="#000">i</text>
<rect x="452.9" y="166.8" width="79.20000000000005" height="21.9" fill="#b37ab3"/>
<rect x="468.4" y="166" width="48.60000000000002" height="17.1" fill="#fff"/>
<rect x="452.9" y="164.1" width="16.0" height="3" fill="#5bb1a6"/>
<rect x="516.5" y="164.1" width="15.600000000000023" height="3" fill="#5bb1a6"/>
<path d="M468.4,165.6 C470,158.5 515.4,158.5 517,165.6" fill="none" stroke="#5bb1a6" stroke-width="2.8"/>
<path d="M468.4,164.3 C470,153 515.4,153 517,164.3" fill="none" stroke="#28675f" stroke-width="1.25" stroke-dasharray="1.1 1.3"/>
<path d="M470,165.8 C472,164 513.5,164 515.5,165.8" fill="none" stroke="#28675f" stroke-width="1.25" stroke-dasharray="1.1 1.3"/>
<path d="M492.7,156.5 V163" stroke="#28675f" stroke-width="0.6"/>
<rect x="577.9" y="166.8" width="78.60000000000002" height="21.9" fill="#b37ab3"/>
<rect x="592.8" y="166" width="48.700000000000045" height="17.1" fill="#fff"/>
<rect x="577.9" y="164.1" width="15.399999999999977" height="3" fill="#5bb1a6"/>
<rect x="641.0" y="164.1" width="15.5" height="3" fill="#5bb1a6"/>
<path d="M592.8,166 C594,130 640.3,130 641.5,166" fill="none" stroke="#5bb1a6" stroke-width="2.9"/>
<path d="M592.8,165 C594,106 640.3,106 641.5,165" fill="none" stroke="#28675f" stroke-width="1.25" stroke-dasharray="1.1 1.3"/>
<path d="M594,166 C597,149.5 637.3,149.5 640.3,166" fill="none" stroke="#28675f" stroke-width="1.25" stroke-dasharray="1.1 1.3"/>
<path d="M617.2,126.5 V151.5" stroke="#28675f" stroke-width="0.8"/><path d="M615.3,129.5 L617.2,124.8 L619.1,129.5 Z M615.3,148.5 L617.2,153.2 L619.1,148.5 Z" fill="#28675f"/>
<path d="M544.5,174.3 H562.8" stroke="#3a3a3a" stroke-width="0.9"/><path d="M546.5,172.3 L542.8,174.3 L546.5,176.3 Z M560.8,172.3 L564.5,174.3 L560.8,176.3 Z" fill="#3a3a3a"/>
<clipPath id="ce1"><rect x="38.2" y="242.4" width="140.3" height="74.9"/></clipPath>
<clipPath id="ce2"><rect x="38.2" y="320.3" width="140.3" height="74.39999999999998"/></clipPath>
<g clip-path="url(#ce1)">
<polygon points="39.9,272.3 43.6,276.0 39.9,279.7 36.2,276.0" fill="#bcbcbc" stroke="#141414" stroke-width="1.15"/>
<polygon points="38.6,280.3 42.3,284.0 38.6,287.7 34.9,284.0" fill="#bcbcbc" stroke="#141414" stroke-width="1.15"/>
<polygon points="49.0,277.9 52.7,281.6 49.0,285.3 45.3,281.6" fill="#bcbcbc" stroke="#141414" stroke-width="1.15"/>
<polygon points="43.0,285.5 46.7,289.2 43.0,292.9 39.3,289.2" fill="#bcbcbc" stroke="#141414" stroke-width="1.15"/>
<polygon points="47.7,289.3 51.4,293.0 47.7,296.7 44.0,293.0" fill="#bcbcbc" stroke="#141414" stroke-width="1.15"/>
<polygon points="46.8,297.5 50.5,301.2 46.8,304.9 43.1,301.2" fill="#bcbcbc" stroke="#141414" stroke-width="1.15"/>
<polygon points="52.3,294.6 56.0,298.3 52.3,302.0 48.6,298.3" fill="#bcbcbc" stroke="#141414" stroke-width="1.15"/>
<polygon points="54.4,301.3 58.1,305.0 54.4,308.7 50.7,305.0" fill="#bcbcbc" stroke="#141414" stroke-width="1.15"/>
<polygon points="57.6,292.7 61.3,296.4 57.6,300.1 53.9,296.4" fill="#bcbcbc" stroke="#141414" stroke-width="1.15"/>
<polygon points="144.3,290.9 148.0,294.6 144.3,298.3 140.6,294.6" fill="#bcbcbc" stroke="#141414" stroke-width="1.15"/>
<polygon points="159.6,274.1 163.3,277.8 159.6,281.5 155.9,277.8" fill="#bcbcbc" stroke="#141414" stroke-width="1.15"/>
</g>
<path d="M38.2,252.4 V317.3 H168.5" fill="none" stroke="#8f8f8f" stroke-width="1.0"/>
<path d="M38.2,252.40 h2.2M38.2,268.62 h2.2M38.2,284.85 h2.2M38.2,301.07 h2.2M38.2,317.30 h2.2M38.20,317.3 v-2.2M59.92,317.3 v-2.2M81.63,317.3 v-2.2M103.35,317.3 v-2.2M125.07,317.3 v-2.2M146.78,317.3 v-2.2M168.50,317.3 v-2.2" fill="none" stroke="#6a6a6a" stroke-width="0.85"/>
<text x="33.9" y="255.3" text-anchor="end" font-size="8.2" fill="#111" stroke="#111" >200</text>
<text x="33.9" y="271.6" text-anchor="end" font-size="8.2" fill="#111" stroke="#111" >150</text>
<text x="33.9" y="287.8" text-anchor="end" font-size="8.2" fill="#111" stroke="#111" >100</text>
<text x="33.9" y="304.0" text-anchor="end" font-size="8.2" fill="#111" stroke="#111" >50</text>
<text x="33.9" y="320.2" text-anchor="end" font-size="8.2" fill="#111" stroke="#111" >0</text>
<g clip-path="url(#ce2)">
<polyline points="38.2,395.0 44.0,384.0 50.1,376.4 55.0,371.5 59.7,369.5 65.1,368.7 146.0,360.0 158.9,360.0" fill="none" stroke="#a82f35" stroke-width="1.15"/>
<circle cx="39.4" cy="394.1" r="2.6" fill="#d8eff8" stroke="#1a289a" stroke-width="1.4"/>
<circle cx="40.2" cy="379.5" r="2.6" fill="#d8eff8" stroke="#1a289a" stroke-width="1.4"/>
<circle cx="43.1" cy="387" r="2.6" fill="#d8eff8" stroke="#1a289a" stroke-width="1.4"/>
<circle cx="45.3" cy="389.9" r="2.6" fill="#d8eff8" stroke="#1a289a" stroke-width="1.4"/>
<circle cx="49" cy="383.1" r="2.6" fill="#d8eff8" stroke="#1a289a" stroke-width="1.4"/>
<circle cx="50.3" cy="385" r="2.6" fill="#d8eff8" stroke="#1a289a" stroke-width="1.4"/>
<circle cx="50.6" cy="373.4" r="2.6" fill="#d8eff8" stroke="#1a289a" stroke-width="1.4"/>
<circle cx="53.8" cy="368.9" r="2.6" fill="#d8eff8" stroke="#1a289a" stroke-width="1.4"/>
<circle cx="56.3" cy="371.6" r="2.6" fill="#d8eff8" stroke="#1a289a" stroke-width="1.4"/>
<circle cx="56.7" cy="364.1" r="2.6" fill="#d8eff8" stroke="#1a289a" stroke-width="1.4"/>
<circle cx="58.1" cy="367" r="2.6" fill="#d8eff8" stroke="#1a289a" stroke-width="1.4"/>
<circle cx="60" cy="368.9" r="2.6" fill="#d8eff8" stroke="#1a289a" stroke-width="1.4"/>
<circle cx="146.1" cy="365.8" r="2.6" fill="#d8eff8" stroke="#1a289a" stroke-width="1.4"/>
<circle cx="159.6" cy="356.8" r="2.6" fill="#d8eff8" stroke="#1a289a" stroke-width="1.4"/>
</g>
<path d="M38.2,330.3 V394.7 H168.5" fill="none" stroke="#8f8f8f" stroke-width="1.0"/>
<path d="M38.2,330.30 h2.2M38.2,343.18 h2.2M38.2,356.06 h2.2M38.2,368.94 h2.2M38.2,381.82 h2.2M38.2,394.70 h2.2M38.20,394.7 v-2.2M59.92,394.7 v-2.2M81.63,394.7 v-2.2M103.35,394.7 v-2.2M125.07,394.7 v-2.2M146.78,394.7 v-2.2M168.50,394.7 v-2.2" fill="none" stroke="#6a6a6a" stroke-width="0.85"/>
<text x="33.9" y="333.2" text-anchor="end" font-size="8.2" fill="#111" stroke="#111" >1,000</text>
<text x="33.9" y="346.1" text-anchor="end" font-size="8.2" fill="#111" stroke="#111" >800</text>
<text x="33.9" y="359.0" text-anchor="end" font-size="8.2" fill="#111" stroke="#111" >600</text>
<text x="33.9" y="371.9" text-anchor="end" font-size="8.2" fill="#111" stroke="#111" >400</text>
<text x="33.9" y="384.8" text-anchor="end" font-size="8.2" fill="#111" stroke="#111" >200</text>
<text x="33.9" y="397.6" text-anchor="end" font-size="8.2" fill="#111" stroke="#111" >0</text>
<text x="38.0" y="405.9" text-anchor="middle" font-size="8.2" fill="#111" stroke="#111" >0</text>
<text x="59.7" y="405.9" text-anchor="middle" font-size="8.2" fill="#111" stroke="#111" >200</text>
<text x="81.4" y="405.9" text-anchor="middle" font-size="8.2" fill="#111" stroke="#111" >400</text>
<text x="103.2" y="405.9" text-anchor="middle" font-size="8.2" fill="#111" stroke="#111" >600</text>
<text x="124.9" y="405.9" text-anchor="middle" font-size="8.2" fill="#111" stroke="#111" >800</text>
<text x="146.6" y="405.9" text-anchor="middle" font-size="8.2" fill="#111" stroke="#111" >1,000</text>
<text x="168.3" y="405.9" text-anchor="middle" font-size="8.2" fill="#111" stroke="#111" >1,200</text>
<text x="103.3" y="418.2" text-anchor="middle" font-size="7.9" fill="#111" stroke="#111" >Time (d)</text>
<text x="162.6" y="387.1" text-anchor="end" font-size="8.3" fill="#a93a3a" stroke="#a93a3a"><tspan font-style="italic">R</tspan><tspan font-size="5.6" dy="1.9">c</tspan><tspan font-size="5.6" dx="-2.6" dy="-5.2">2</tspan><tspan dy="3.3" dx="0.6"> = 541 nm</tspan><tspan font-size="5.6" dy="-3.2">2</tspan></text>
<text x="22.2" y="246.9" font-size="10.9" font-weight="bold" fill="#000" stroke="#000">e</text>
<clipPath id="cf1"><rect x="210.6" y="242.4" width="140.79999999999998" height="74.9"/></clipPath>
<clipPath id="cf2"><rect x="210.6" y="320.3" width="140.79999999999998" height="74.39999999999998"/></clipPath>
<g clip-path="url(#cf1)">
<polygon points="211.8,274.2 215.5,277.9 211.8,281.6 208.1,277.9" fill="#bcbcbc" stroke="#141414" stroke-width="1.15"/>
<polygon points="212.9,279.5 216.6,283.2 212.9,286.9 209.2,283.2" fill="#bcbcbc" stroke="#141414" stroke-width="1.15"/>
<polygon points="215.0,285.3 218.7,289.0 215.0,292.7 211.3,289.0" fill="#bcbcbc" stroke="#141414" stroke-width="1.15"/>
<polygon points="221.0,279.5 224.7,283.2 221.0,286.9 217.3,283.2" fill="#bcbcbc" stroke="#141414" stroke-width="1.15"/>
<polygon points="220.4,288.7 224.1,292.4 220.4,296.1 216.7,292.4" fill="#bcbcbc" stroke="#141414" stroke-width="1.15"/>
<polygon points="219.3,296.0 223.0,299.7 219.3,303.4 215.6,299.7" fill="#bcbcbc" stroke="#141414" stroke-width="1.15"/>
<polygon points="224.6,292.3 228.3,296.0 224.6,299.7 220.9,296.0" fill="#bcbcbc" stroke="#141414" stroke-width="1.15"/>
<polygon points="226.8,299.4 230.5,303.1 226.8,306.8 223.1,303.1" fill="#bcbcbc" stroke="#141414" stroke-width="1.15"/>
<polygon points="230.0,290.9 233.7,294.6 230.0,298.3 226.3,294.6" fill="#bcbcbc" stroke="#141414" stroke-width="1.15"/>
<polygon points="227.9,293.4 231.6,297.1 227.9,300.8 224.2,297.1" fill="#bcbcbc" stroke="#141414" stroke-width="1.15"/>
<polygon points="316.5,284.0 320.2,287.7 316.5,291.4 312.8,287.7" fill="#bcbcbc" stroke="#141414" stroke-width="1.15"/>
<polygon points="331.5,259.6 335.2,263.3 331.5,267.0 327.8,263.3" fill="#bcbcbc" stroke="#141414" stroke-width="1.15"/>
</g>
<path d="M210.6,252.4 V317.3 H341.4" fill="none" stroke="#8f8f8f" stroke-width="1.0"/>
<path d="M210.6,252.40 h2.2M210.6,268.62 h2.2M210.6,284.85 h2.2M210.6,301.07 h2.2M210.6,317.30 h2.2M210.60,317.3 v-2.2M232.40,317.3 v-2.2M254.20,317.3 v-2.2M276.00,317.3 v-2.2M297.80,317.3 v-2.2M319.60,317.3 v-2.2M341.40,317.3 v-2.2" fill="none" stroke="#6a6a6a" stroke-width="0.85"/>
<text x="206.3" y="255.3" text-anchor="end" font-size="8.2" fill="#111" stroke="#111" >200</text>
<text x="206.3" y="271.6" text-anchor="end" font-size="8.2" fill="#111" stroke="#111" >150</text>
<text x="206.3" y="287.8" text-anchor="end" font-size="8.2" fill="#111" stroke="#111" >100</text>
<text x="206.3" y="304.0" text-anchor="end" font-size="8.2" fill="#111" stroke="#111" >50</text>
<text x="206.3" y="320.2" text-anchor="end" font-size="8.2" fill="#111" stroke="#111" >0</text>
<g clip-path="url(#cf2)">
<polyline points="211.0,391.4 212.9,379.5 216.4,366.4 221.2,355.7 229.5,346.7 314.5,341.0 330.0,341.0" fill="none" stroke="#a82f35" stroke-width="1.15"/>
<circle cx="211" cy="394.3" r="2.6" fill="#d8eff8" stroke="#1a289a" stroke-width="1.4"/>
<circle cx="212.1" cy="378.3" r="2.6" fill="#d8eff8" stroke="#1a289a" stroke-width="1.4"/>
<circle cx="215.2" cy="381.9" r="2.6" fill="#d8eff8" stroke="#1a289a" stroke-width="1.4"/>
<circle cx="218.8" cy="354.5" r="2.6" fill="#d8eff8" stroke="#1a289a" stroke-width="1.4"/>
<circle cx="220" cy="357.6" r="2.6" fill="#d8eff8" stroke="#1a289a" stroke-width="1.4"/>
<circle cx="220.7" cy="364" r="2.6" fill="#d8eff8" stroke="#1a289a" stroke-width="1.4"/>
<circle cx="224.3" cy="358.6" r="2.6" fill="#d8eff8" stroke="#1a289a" stroke-width="1.4"/>
<circle cx="226.7" cy="353.8" r="2.6" fill="#d8eff8" stroke="#1a289a" stroke-width="1.4"/>
<circle cx="227.1" cy="341" r="2.6" fill="#d8eff8" stroke="#1a289a" stroke-width="1.4"/>
<circle cx="230" cy="341" r="2.6" fill="#d8eff8" stroke="#1a289a" stroke-width="1.4"/>
<circle cx="316.4" cy="342.1" r="2.6" fill="#d8eff8" stroke="#1a289a" stroke-width="1.4"/>
<circle cx="330" cy="345.7" r="2.6" fill="#d8eff8" stroke="#1a289a" stroke-width="1.4"/>
</g>
<path d="M210.6,330.3 V394.7 H341.4" fill="none" stroke="#8f8f8f" stroke-width="1.0"/>
<path d="M210.6,330.30 h2.2M210.6,346.40 h2.2M210.6,362.50 h2.2M210.6,378.60 h2.2M210.6,394.70 h2.2M210.60,394.7 v-2.2M232.40,394.7 v-2.2M254.20,394.7 v-2.2M276.00,394.7 v-2.2M297.80,394.7 v-2.2M319.60,394.7 v-2.2M341.40,394.7 v-2.2" fill="none" stroke="#6a6a6a" stroke-width="0.85"/>
<text x="206.3" y="333.2" text-anchor="end" font-size="8.2" fill="#111" stroke="#111" >2,000</text>
<text x="206.3" y="349.3" text-anchor="end" font-size="8.2" fill="#111" stroke="#111" >1,500</text>
<text x="206.3" y="365.4" text-anchor="end" font-size="8.2" fill="#111" stroke="#111" >1,000</text>
<text x="206.3" y="381.6" text-anchor="end" font-size="8.2" fill="#111" stroke="#111" >500</text>
<text x="206.3" y="397.6" text-anchor="end" font-size="8.2" fill="#111" stroke="#111" >0</text>
<text x="210.4" y="405.9" text-anchor="middle" font-size="8.2" fill="#111" stroke="#111" >0</text>
<text x="232.2" y="405.9" text-anchor="middle" font-size="8.2" fill="#111" stroke="#111" >200</text>
<text x="254.0" y="405.9" text-anchor="middle" font-size="8.2" fill="#111" stroke="#111" >400</text>
<text x="275.8" y="405.9" text-anchor="middle" font-size="8.2" fill="#111" stroke="#111" >600</text>
<text x="297.6" y="405.9" text-anchor="middle" font-size="8.2" fill="#111" stroke="#111" >800</text>
<text x="319.4" y="405.9" text-anchor="middle" font-size="8.2" fill="#111" stroke="#111" >1,000</text>
<text x="341.2" y="405.9" text-anchor="middle" font-size="8.2" fill="#111" stroke="#111" >1,200</text>
<text x="276.0" y="418.2" text-anchor="middle" font-size="7.9" fill="#111" stroke="#111" >Time (d)</text>
<text x="334.6" y="387.1" text-anchor="end" font-size="8.3" fill="#a93a3a" stroke="#a93a3a"><tspan font-style="italic">R</tspan><tspan font-size="5.6" dy="1.9">c</tspan><tspan font-size="5.6" dx="-2.6" dy="-5.2">2</tspan><tspan dy="3.3" dx="0.6"> = 1,655 nm</tspan><tspan font-size="5.6" dy="-3.2">2</tspan></text>
<text x="184.4" y="246.9" font-size="10.9" font-weight="bold" fill="#000" stroke="#000">f</text>
<clipPath id="cg1"><rect x="377.8" y="242.4" width="140.8" height="74.9"/></clipPath>
<clipPath id="cg2"><rect x="377.8" y="320.3" width="140.8" height="74.39999999999998"/></clipPath>
<g clip-path="url(#cg1)">
<polygon points="379.2,282.7 382.9,286.4 379.2,290.1 375.5,286.4" fill="#bcbcbc" stroke="#141414" stroke-width="1.15"/>
<polygon points="381.1,284.9 384.8,288.6 381.1,292.3 377.4,288.6" fill="#bcbcbc" stroke="#141414" stroke-width="1.15"/>
<polygon points="388.2,284.4 391.9,288.1 388.2,291.8 384.5,288.1" fill="#bcbcbc" stroke="#141414" stroke-width="1.15"/>
<polygon points="382.9,292.4 386.6,296.1 382.9,299.8 379.2,296.1" fill="#bcbcbc" stroke="#141414" stroke-width="1.15"/>
<polygon points="386.7,299.4 390.4,303.1 386.7,306.8 383.0,303.1" fill="#bcbcbc" stroke="#141414" stroke-width="1.15"/>
<polygon points="387.6,293.9 391.3,297.6 387.6,301.3 383.9,297.6" fill="#bcbcbc" stroke="#141414" stroke-width="1.15"/>
<polygon points="391.4,296.7 395.1,300.4 391.4,304.1 387.7,300.4" fill="#bcbcbc" stroke="#141414" stroke-width="1.15"/>
<polygon points="394.6,293.4 398.3,297.1 394.6,300.8 390.9,297.1" fill="#bcbcbc" stroke="#141414" stroke-width="1.15"/>
<polygon points="394.6,302.4 398.3,306.1 394.6,309.8 390.9,306.1" fill="#bcbcbc" stroke="#141414" stroke-width="1.15"/>
<polygon points="397.4,295.2 401.1,298.9 397.4,302.6 393.7,298.9" fill="#bcbcbc" stroke="#141414" stroke-width="1.15"/>
<polygon points="483.9,289.6 487.6,293.3 483.9,297.0 480.2,293.3" fill="#bcbcbc" stroke="#141414" stroke-width="1.15"/>
<polygon points="498.9,268.2 502.6,271.9 498.9,275.6 495.2,271.9" fill="#bcbcbc" stroke="#141414" stroke-width="1.15"/>
</g>
<path d="M377.8,252.4 V317.3 H508.6" fill="none" stroke="#8f8f8f" stroke-width="1.0"/>
<path d="M377.8,252.40 h2.2M377.8,268.62 h2.2M377.8,284.85 h2.2M377.8,301.07 h2.2M377.8,317.30 h2.2M377.80,317.3 v-2.2M399.60,317.3 v-2.2M421.40,317.3 v-2.2M443.20,317.3 v-2.2M465.00,317.3 v-2.2M486.80,317.3 v-2.2M508.60,317.3 v-2.2" fill="none" stroke="#6a6a6a" stroke-width="0.85"/>
<text x="373.5" y="255.3" text-anchor="end" font-size="8.2" fill="#111" stroke="#111" >200</text>
<text x="373.5" y="271.6" text-anchor="end" font-size="8.2" fill="#111" stroke="#111" >150</text>
<text x="373.5" y="287.8" text-anchor="end" font-size="8.2" fill="#111" stroke="#111" >100</text>
<text x="373.5" y="304.0" text-anchor="end" font-size="8.2" fill="#111" stroke="#111" >50</text>
<text x="373.5" y="320.2" text-anchor="end" font-size="8.2" fill="#111" stroke="#111" >0</text>
<g clip-path="url(#cg2)">
<polyline points="378.1,393.8 381.0,384.3 385.2,367.6 390.0,360.5 397.1,350.5 484.5,340.2 497.6,340.2" fill="none" stroke="#a82f35" stroke-width="1.15"/>
<circle cx="378.6" cy="392.6" r="2.6" fill="#d8eff8" stroke="#1a289a" stroke-width="1.4"/>
<circle cx="380" cy="383.6" r="2.6" fill="#d8eff8" stroke="#1a289a" stroke-width="1.4"/>
<circle cx="381" cy="389" r="2.6" fill="#d8eff8" stroke="#1a289a" stroke-width="1.4"/>
<circle cx="383.3" cy="387.4" r="2.6" fill="#d8eff8" stroke="#1a289a" stroke-width="1.4"/>
<circle cx="386.4" cy="362.4" r="2.6" fill="#d8eff8" stroke="#1a289a" stroke-width="1.4"/>
<circle cx="387.6" cy="362.9" r="2.6" fill="#d8eff8" stroke="#1a289a" stroke-width="1.4"/>
<circle cx="388.8" cy="368.3" r="2.6" fill="#d8eff8" stroke="#1a289a" stroke-width="1.4"/>
<circle cx="391.7" cy="362.9" r="2.6" fill="#d8eff8" stroke="#1a289a" stroke-width="1.4"/>
<circle cx="394.3" cy="357.4" r="2.6" fill="#d8eff8" stroke="#1a289a" stroke-width="1.4"/>
<circle cx="394.3" cy="344.5" r="2.6" fill="#d8eff8" stroke="#1a289a" stroke-width="1.4"/>
<circle cx="397.1" cy="344.5" r="2.6" fill="#d8eff8" stroke="#1a289a" stroke-width="1.4"/>
<circle cx="484" cy="347.9" r="2.6" fill="#d8eff8" stroke="#1a289a" stroke-width="1.4"/>
<circle cx="497.6" cy="338.6" r="2.6" fill="#d8eff8" stroke="#1a289a" stroke-width="1.4"/>
</g>
<path d="M377.8,330.3 V394.7 H508.6" fill="none" stroke="#8f8f8f" stroke-width="1.0"/>
<path d="M377.8,330.30 h2.2M377.8,351.77 h2.2M377.8,373.23 h2.2M377.8,394.70 h2.2M377.80,394.7 v-2.2M399.60,394.7 v-2.2M421.40,394.7 v-2.2M443.20,394.7 v-2.2M465.00,394.7 v-2.2M486.80,394.7 v-2.2M508.60,394.7 v-2.2" fill="none" stroke="#6a6a6a" stroke-width="0.85"/>
<text x="373.5" y="333.2" text-anchor="end" font-size="8.2" fill="#111" stroke="#111" >1,500</text>
<text x="373.5" y="354.7" text-anchor="end" font-size="8.2" fill="#111" stroke="#111" >1,000</text>
<text x="373.5" y="376.2" text-anchor="end" font-size="8.2" fill="#111" stroke="#111" >500</text>
<text x="373.5" y="397.6" text-anchor="end" font-size="8.2" fill="#111" stroke="#111" >0</text>
<text x="377.6" y="405.9" text-anchor="middle" font-size="8.2" fill="#111" stroke="#111" >0</text>
<text x="399.4" y="405.9" text-anchor="middle" font-size="8.2" fill="#111" stroke="#111" >200</text>
<text x="421.2" y="405.9" text-anchor="middle" font-size="8.2" fill="#111" stroke="#111" >400</text>
<text x="443.0" y="405.9" text-anchor="middle" font-size="8.2" fill="#111" stroke="#111" >600</text>
<text x="464.8" y="405.9" text-anchor="middle" font-size="8.2" fill="#111" stroke="#111" >800</text>
<text x="486.6" y="405.9" text-anchor="middle" font-size="8.2" fill="#111" stroke="#111" >1,000</text>
<text x="508.4" y="405.9" text-anchor="middle" font-size="8.2" fill="#111" stroke="#111" >1,200</text>
<text x="443.2" y="418.2" text-anchor="middle" font-size="7.9" fill="#111" stroke="#111" >Time (d)</text>
<text x="503.8" y="387.1" text-anchor="end" font-size="8.3" fill="#a93a3a" stroke="#a93a3a"><tspan font-style="italic">R</tspan><tspan font-size="5.6" dy="1.9">c</tspan><tspan font-size="5.6" dx="-2.6" dy="-5.2">2</tspan><tspan dy="3.3" dx="0.6"> = 1,254 nm</tspan><tspan font-size="5.6" dy="-3.2">2</tspan></text>
<text x="351.6" y="246.9" font-size="10.9" font-weight="bold" fill="#000" stroke="#000">g</text>
<clipPath id="ch1"><rect x="544.5" y="242.4" width="140.89999999999998" height="74.9"/></clipPath>
<clipPath id="ch2"><rect x="544.5" y="320.3" width="140.89999999999998" height="74.39999999999998"/></clipPath>
<g clip-path="url(#ch1)">
<polygon points="545.9,282.1 549.6,285.8 545.9,289.5 542.2,285.8" fill="#bcbcbc" stroke="#141414" stroke-width="1.15"/>
<polygon points="545.4,287.5 549.1,291.2 545.4,294.9 541.7,291.2" fill="#bcbcbc" stroke="#141414" stroke-width="1.15"/>
<polygon points="548.5,284.8 552.2,288.5 548.5,292.2 544.8,288.5" fill="#bcbcbc" stroke="#141414" stroke-width="1.15"/>
<polygon points="551.3,286.7 555.0,290.4 551.3,294.1 547.6,290.4" fill="#bcbcbc" stroke="#141414" stroke-width="1.15"/>
<polygon points="556.2,288.8 559.9,292.5 556.2,296.2 552.5,292.5" fill="#bcbcbc" stroke="#141414" stroke-width="1.15"/>
<polygon points="555.4,294.2 559.1,297.9 555.4,301.6 551.7,297.9" fill="#bcbcbc" stroke="#141414" stroke-width="1.15"/>
<polygon points="556.7,299.1 560.4,302.8 556.7,306.5 553.0,302.8" fill="#bcbcbc" stroke="#141414" stroke-width="1.15"/>
<polygon points="560.8,295.6 564.5,299.3 560.8,303.0 557.1,299.3" fill="#bcbcbc" stroke="#141414" stroke-width="1.15"/>
<polygon points="563.5,299.6 567.2,303.3 563.5,307.0 559.8,303.3" fill="#bcbcbc" stroke="#141414" stroke-width="1.15"/>
<polygon points="564.3,288.8 568.0,292.5 564.3,296.2 560.6,292.5" fill="#bcbcbc" stroke="#141414" stroke-width="1.15"/>
<polygon points="566.6,291.8 570.3,295.5 566.6,299.2 562.9,295.5" fill="#bcbcbc" stroke="#141414" stroke-width="1.15"/>
<polygon points="610.0,291.3 613.7,295.0 610.0,298.7 606.3,295.0" fill="#bcbcbc" stroke="#141414" stroke-width="1.15"/>
<polygon points="652.6,297.8 656.3,301.5 652.6,305.2 648.9,301.5" fill="#bcbcbc" stroke="#141414" stroke-width="1.15"/>
<polygon points="667.8,302.7 671.5,306.4 667.8,310.1 664.1,306.4" fill="#bcbcbc" stroke="#141414" stroke-width="1.15"/>
</g>
<path d="M544.5,252.4 V317.3 H675.4" fill="none" stroke="#8f8f8f" stroke-width="1.0"/>
<path d="M544.5,252.40 h2.2M544.5,268.62 h2.2M544.5,284.85 h2.2M544.5,301.07 h2.2M544.5,317.30 h2.2M544.50,317.3 v-2.2M566.32,317.3 v-2.2M588.13,317.3 v-2.2M609.95,317.3 v-2.2M631.77,317.3 v-2.2M653.58,317.3 v-2.2M675.40,317.3 v-2.2" fill="none" stroke="#6a6a6a" stroke-width="0.85"/>
<text x="540.2" y="255.3" text-anchor="end" font-size="8.2" fill="#111" stroke="#111" >200</text>
<text x="540.2" y="271.6" text-anchor="end" font-size="8.2" fill="#111" stroke="#111" >150</text>
<text x="540.2" y="287.8" text-anchor="end" font-size="8.2" fill="#111" stroke="#111" >100</text>
<text x="540.2" y="304.0" text-anchor="end" font-size="8.2" fill="#111" stroke="#111" >50</text>
<text x="540.2" y="320.2" text-anchor="end" font-size="8.2" fill="#111" stroke="#111" >0</text>
<g clip-path="url(#ch2)">
<polyline points="544.3,392.6 549.0,379.5 552.6,367.6 558.6,357.6 566.4,353.3 649.5,346.2 663.8,345.7" fill="none" stroke="#a82f35" stroke-width="1.15"/>
<circle cx="545" cy="391.4" r="2.6" fill="#d8eff8" stroke="#1a289a" stroke-width="1.4"/>
<circle cx="547.4" cy="389" r="2.6" fill="#d8eff8" stroke="#1a289a" stroke-width="1.4"/>
<circle cx="549.5" cy="383.1" r="2.6" fill="#d8eff8" stroke="#1a289a" stroke-width="1.4"/>
<circle cx="553.3" cy="362.9" r="2.6" fill="#d8eff8" stroke="#1a289a" stroke-width="1.4"/>
<circle cx="555" cy="367.6" r="2.6" fill="#d8eff8" stroke="#1a289a" stroke-width="1.4"/>
<circle cx="555.7" cy="363.6" r="2.6" fill="#d8eff8" stroke="#1a289a" stroke-width="1.4"/>
<circle cx="557.9" cy="364.5" r="2.6" fill="#d8eff8" stroke="#1a289a" stroke-width="1.4"/>
<circle cx="561" cy="363.6" r="2.6" fill="#d8eff8" stroke="#1a289a" stroke-width="1.4"/>
<circle cx="561.2" cy="350.5" r="2.6" fill="#d8eff8" stroke="#1a289a" stroke-width="1.4"/>
<circle cx="563.8" cy="351" r="2.6" fill="#d8eff8" stroke="#1a289a" stroke-width="1.4"/>
<circle cx="650.7" cy="354" r="2.6" fill="#d8eff8" stroke="#1a289a" stroke-width="1.4"/>
<circle cx="663.8" cy="341" r="2.6" fill="#d8eff8" stroke="#1a289a" stroke-width="1.4"/>
</g>
<path d="M544.5,330.3 V394.7 H675.4" fill="none" stroke="#8f8f8f" stroke-width="1.0"/>
<path d="M544.5,330.30 h2.2M544.5,343.18 h2.2M544.5,356.06 h2.2M544.5,368.94 h2.2M544.5,381.82 h2.2M544.5,394.70 h2.2M544.50,394.7 v-2.2M566.32,394.7 v-2.2M588.13,394.7 v-2.2M609.95,394.7 v-2.2M631.77,394.7 v-2.2M653.58,394.7 v-2.2M675.40,394.7 v-2.2" fill="none" stroke="#6a6a6a" stroke-width="0.85"/>
<text x="540.2" y="333.2" text-anchor="end" font-size="8.2" fill="#111" stroke="#111" >1,000</text>
<text x="540.2" y="346.1" text-anchor="end" font-size="8.2" fill="#111" stroke="#111" >800</text>
<text x="540.2" y="359.0" text-anchor="end" font-size="8.2" fill="#111" stroke="#111" >600</text>
<text x="540.2" y="371.9" text-anchor="end" font-size="8.2" fill="#111" stroke="#111" >400</text>
<text x="540.2" y="384.8" text-anchor="end" font-size="8.2" fill="#111" stroke="#111" >200</text>
<text x="540.2" y="397.6" text-anchor="end" font-size="8.2" fill="#111" stroke="#111" >0</text>
<text x="544.3" y="405.9" text-anchor="middle" font-size="8.2" fill="#111" stroke="#111" >0</text>
<text x="566.1" y="405.9" text-anchor="middle" font-size="8.2" fill="#111" stroke="#111" >200</text>
<text x="587.9" y="405.9" text-anchor="middle" font-size="8.2" fill="#111" stroke="#111" >400</text>
<text x="609.8" y="405.9" text-anchor="middle" font-size="8.2" fill="#111" stroke="#111" >600</text>
<text x="631.6" y="405.9" text-anchor="middle" font-size="8.2" fill="#111" stroke="#111" >800</text>
<text x="653.4" y="405.9" text-anchor="middle" font-size="8.2" fill="#111" stroke="#111" >1,000</text>
<text x="675.2" y="405.9" text-anchor="middle" font-size="8.2" fill="#111" stroke="#111" >1,200</text>
<text x="610.0" y="418.2" text-anchor="middle" font-size="7.9" fill="#111" stroke="#111" >Time (d)</text>
<text x="670.6" y="387.1" text-anchor="end" font-size="8.3" fill="#a93a3a" stroke="#a93a3a"><tspan font-style="italic">R</tspan><tspan font-size="5.6" dy="1.9">c</tspan><tspan font-size="5.6" dx="-2.6" dy="-5.2">2</tspan><tspan dy="3.3" dx="0.6"> = 744 nm</tspan><tspan font-size="5.6" dy="-3.2">2</tspan></text>
<text x="516.9" y="246.9" font-size="10.9" font-weight="bold" fill="#000" stroke="#000">h</text>
<text transform="translate(11.6,285) rotate(-90)" text-anchor="middle" font-size="7.9" fill="#111" stroke="#111">Deflection, δ (nm)</text>
<text transform="translate(8.8,362.5) rotate(-90)" text-anchor="middle" font-size="7.9" fill="#111" stroke="#111">MSD (nm<tspan font-size="5.3" dy="-3">2</tspan><tspan dy="3">)</tspan></text>
</svg></body></html>
